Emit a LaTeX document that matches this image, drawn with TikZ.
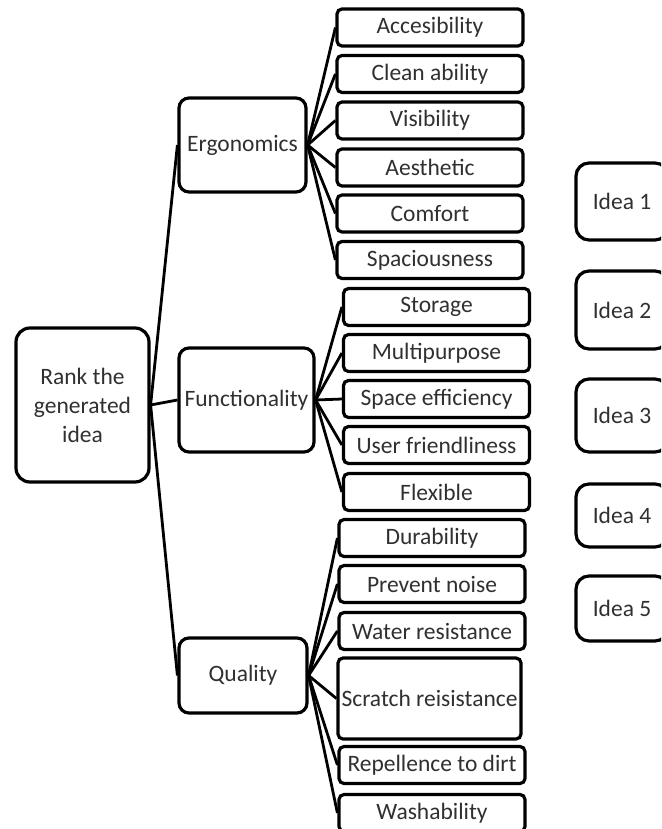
\documentclass[tikz,border=0pt]{standalone}
\usepackage{fontspec}
\setmainfont{Carlito}
\usetikzlibrary{positioning}
\definecolor{ink}{HTML}{000000}
\definecolor{label}{HTML}{303030}
\newcommand{\BoxFont}{\fontsize{23.5}{29}\selectfont}
\tikzset{
  tree box/.style={
    draw=ink, line width=3.2pt, fill=white, align=center,
    font=\BoxFont, text=label, inner sep=1pt
  },
  tree link/.style={draw=ink, line width=2.8pt},
}

\begin{document}
\begin{tikzpicture}[x=1pt,y=-1pt,
  leaf/.style={tree box, rounded corners=5pt, minimum width=#1, minimum height=37pt},
  leaf/.default=186pt,
  branch/.style={tree box, rounded corners=10pt},
  idea/.style={tree box, rounded corners=13pt, minimum width=92pt}]

  \useasboundingbox (0,0) rectangle (661,829);
  \clip (0,0) rectangle (661,829);

  % Root and the three criteria
  \node[tree box, rounded corners=14pt, minimum width=133pt, minimum height=154pt]
    (rank) at (82.5,405) {Rank the\\generated\\idea};
  \node[branch, minimum width=127pt, minimum height=94pt] (ergo) at (242.5,145) {Ergonomics};
  \node[branch, minimum width=135pt, minimum height=104pt] (func) at (246.5,400) {Functionality};
  \node[branch, minimum width=128pt, minimum height=75pt] (qual) at (243,675.5) {Quality};

  % Sub-criteria
  \foreach \name/\txt/\x/\y in {%
    acc/Accesibility/430/27.5, clean/Clean ability/430/74, vis/Visibility/430/120.5,
    aes/Aesthetic/430/167.5, comf/Comfort/430/213.5, spac/Spaciousness/430/260,
    stor/Storage/436.5/307, multi/Multipurpose/436.5/353, spaceff/Space efficiency/436.5/399,
    userf/User friendliness/436.5/445, flex/Flexible/436.5/492,
    dur/Durability/432/538, noise/Prevent noise/432/584, water/Water resistance/432/631,
    repel/Repellence to dirt/432/765, wash/Washability/432/813}
    \node[leaf] (\name) at (\x,\y) {\txt};
  \node[leaf=183pt, minimum height=81pt] (scratch) at (429.5,698.5) {Scratch reisistance};

  % Ideas to rank
  \node[idea, minimum height=77pt] (idea1) at (622,201.5) {Idea 1};
  \node[idea, minimum height=78pt] (idea2) at (622,310) {Idea 2};
  \node[idea, minimum height=73pt] (idea3) at (622,415.5) {Idea 3};
  \node[idea, minimum height=63pt] (idea4) at (622,515.5) {Idea 4};
  \node[idea, minimum height=65pt] (idea5) at (622,608.5) {Idea 5};

  % Connectors
  \foreach \b in {ergo,func,qual}
    \draw[tree link] (rank.east) -- (\b.west);
  \foreach \l in {acc,clean,vis,aes,comf,spac}
    \draw[tree link] (ergo.east) -- (\l.west);
  \foreach \l in {stor,multi,spaceff,userf,flex}
    \draw[tree link] (func.east) -- (\l.west);
  \foreach \l in {dur,noise,water,scratch,repel,wash}
    \draw[tree link] (qual.east) -- (\l.west);
\end{tikzpicture}
\end{document}
